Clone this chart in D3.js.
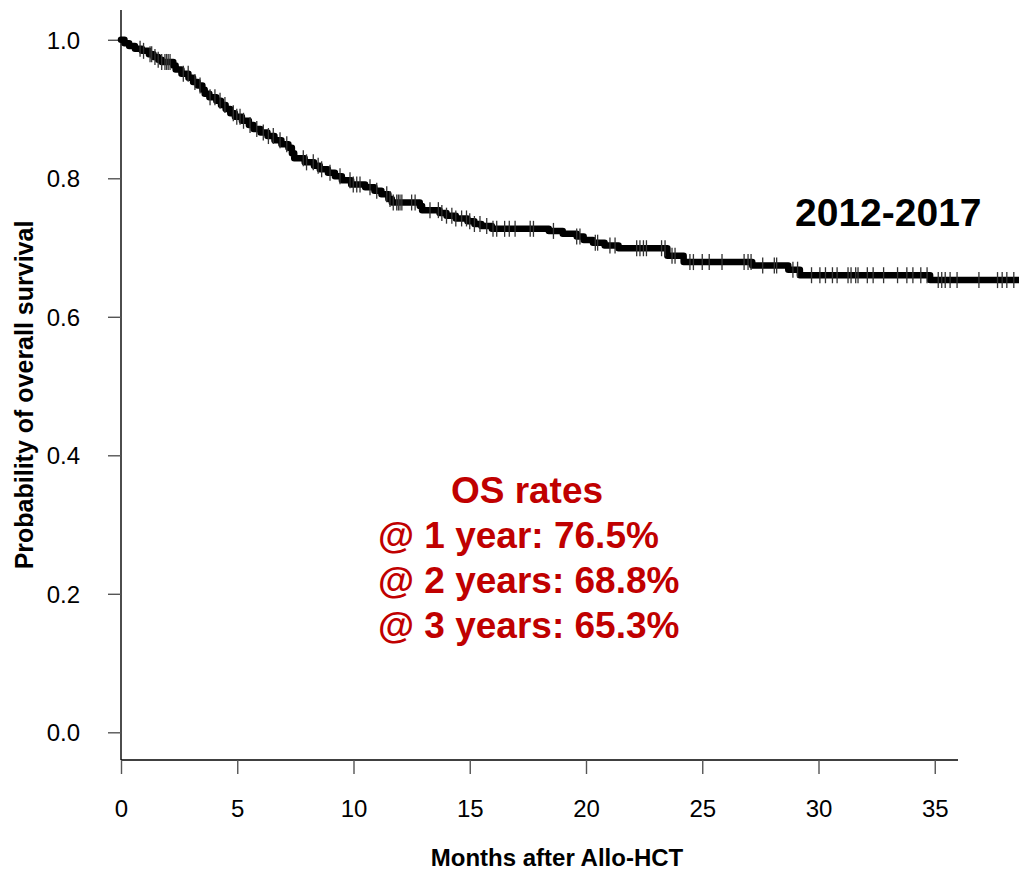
<!DOCTYPE html>
<html>
<head>
<meta charset="utf-8">
<script src="https://cdn.jsdelivr.net/npm/d3@7/dist/d3.min.js"></script>
<style>
  html, body { margin: 0; padding: 0; background: #fff; }
  svg text { font-family: "Liberation Sans", Arial, Helvetica, sans-serif; }
</style>
</head>
<body>
<svg id="chart" width="1019" height="870"></svg>
<script>
// Kaplan-Meier estimate: event times (months) and survival after each event
const eventMonths = [0.15,0.35,0.6,0.9,1.2,1.4,1.6,1.75,2.25,2.35,2.6,2.9,3.1,3.3,3.5,3.6,3.8,
  4.1,4.3,4.5,4.7,4.9,5.2,5.5,5.7,6.0,6.3,6.6,6.9,7.2,7.35,7.45,7.9,8.3,8.55,
  8.9,9.2,9.5,9.9,10.5,10.9,11.2,11.5,11.65,12.85,12.95,13.7,14.0,14.4,14.9,15.2,15.5,15.95,
  18.4,19.0,19.6,19.9,20.3,20.8,21.4,23.5,24.2,27.15,28.7,29.2,34.8];
const survival = [0.995,0.991,0.987,0.984,0.979,0.975,0.971,0.968,0.963,0.957,0.951,0.945,0.939,0.934,0.928,0.922,0.917,
  0.912,0.906,0.900,0.894,0.889,0.883,0.877,0.871,0.866,0.861,0.855,0.849,0.844,0.836,0.829,0.823,0.818,0.813,
  0.808,0.803,0.797,0.791,0.787,0.782,0.777,0.770,0.765,0.760,0.754,0.750,0.746,0.742,0.738,0.734,0.731,0.727,
  0.724,0.720,0.716,0.711,0.707,0.703,0.699,0.688,0.679,0.674,0.668,0.660,0.653];
// censored observations (months)
const censorMonths = [0.82,0.97,1.25,1.32,1.46,1.6,1.75,1.89,1.96,2.03,2.11,2.68,2.89,3.18,3.4,3.83,4.04,4.26,4.47,
  4.83,4.98,5.12,5.27,5.55,5.84,6.12,6.34,6.55,6.84,7.13,7.84,7.98,8.27,8.48,8.63,8.99,9.42,9.85,9.99,10.14,10.28,10.71,11.0,
  11.43,11.57,11.71,11.86,11.93,12.0,12.08,12.5,12.65,13.29,13.65,13.8,14.0,14.23,14.4,14.65,14.86,15.0,15.2,15.44,15.73,
  16.0,16.16,16.5,16.7,16.95,17.6,17.74,18.6,19.6,19.74,20.4,20.5,21.03,21.25,22.18,22.32,22.47,22.6,23.25,23.4,23.7,23.83,
  24.47,24.62,25.0,25.3,25.85,26.8,26.97,27.1,27.6,28.1,28.2,28.9,29.1,29.7,30.06,30.3,30.6,30.8,31.27,31.4,31.6,31.7,
  32.1,32.35,32.8,33.4,33.8,34.06,34.4,34.67,35.15,35.3,35.45,35.66,35.96,36.9,37.7,37.9,38.1,38.4];
const followUpEnd = 38.8;

const xTicks = [0, 5, 10, 15, 20, 25, 30, 35];
const yTicks = [0.0, 0.2, 0.4, 0.6, 0.8, 1.0];
const xTitle = "Months after Allo-HCT";
const yTitle = "Probability of overall survival";
const periodLabel = "2012-2017";
const rateTitle = "OS rates";
const rateLines = ["@ 1 year: 76.5%", "@ 2 years: 68.8%", "@ 3 years: 65.3%"];

const svg = d3.select("#chart");

const x = d3.scaleLinear().domain([0, 36]).range([121, 958]);
const y = d3.scaleLinear().domain([-0.04, 1.043]).range([760, 10]);

// axes
const xAxis = d3.axisBottom(x).tickValues(xTicks).tickSize(14).tickPadding(26).tickFormat(d3.format("d"));
const gx = svg.append("g").attr("transform", "translate(0,760)").call(xAxis);
gx.select(".domain").attr("d", `M${x(0)},0H${x(36)}`).attr("stroke", "#000").attr("stroke-width", 1.4);
gx.selectAll(".tick line").attr("stroke", "#555").attr("stroke-width", 1.4);
gx.selectAll(".tick text").attr("font-size", 24).attr("fill", "#000")
  .style("font-family", "Liberation Sans, Arial, sans-serif");

const yAxis = d3.axisLeft(y).tickValues(yTicks).tickSize(13).tickPadding(28).tickFormat(d3.format(".1f"));
const gy = svg.append("g").attr("transform", `translate(${x(0)},0)`).call(yAxis);
gy.select(".domain").attr("d", `M0,${y(1.043)}V${y(-0.04)}`).attr("stroke", "#000").attr("stroke-width", 1.4);
gy.selectAll(".tick line").attr("stroke", "#555").attr("stroke-width", 1.4);
gy.selectAll(".tick text").attr("font-size", 24).attr("fill", "#000").attr("dy", "0.36em")
  .style("font-family", "Liberation Sans, Arial, sans-serif");

// axis titles
svg.append("text").attr("x", 557).attr("y", 866).attr("text-anchor", "middle")
  .attr("font-size", 24).attr("font-weight", "bold").text(xTitle);
svg.append("text").attr("transform", "translate(33,395) rotate(-90)").attr("text-anchor", "middle")
  .attr("font-size", 25).attr("font-weight", "bold").text(yTitle);

// survival curve (step function)
const pts = [[0, 1.0]];
eventMonths.forEach((t, i) => pts.push([t, survival[i]]));
pts.push([followUpEnd, survival[survival.length - 1]]);

const line = d3.line().x(d => x(d[0])).y(d => y(d[1])).curve(d3.curveStepAfter);
svg.append("path").datum(pts).attr("d", line)
  .attr("fill", "none").attr("stroke", "#000").attr("stroke-width", 6.5)
  .attr("stroke-linejoin", "round").attr("stroke-linecap", "round");

// censor marks
const survAt = t => {
  const i = d3.bisectRight(eventMonths, t);
  return i === 0 ? 1.0 : survival[i - 1];
};
svg.append("g").selectAll("line").data(censorMonths).join("line")
  .attr("x1", d => x(d)).attr("x2", d => x(d))
  .attr("y1", d => y(survAt(d)) - 8).attr("y2", d => y(survAt(d)) + 8)
  .attr("stroke", "#333").attr("stroke-width", 1.3);

// annotations
svg.append("text").attr("x", 795).attr("y", 226).attr("font-size", 39).attr("font-weight", "bold")
  .attr("fill", "#000").text(periodLabel);

svg.append("text").attr("x", 527).attr("y", 503).attr("text-anchor", "middle")
  .attr("font-size", 37).attr("font-weight", "bold").attr("fill", "#C00000").text(rateTitle);
rateLines.forEach((s, i) => {
  svg.append("text").attr("x", 378).attr("y", 548 + i * 45)
    .attr("font-size", 37).attr("font-weight", "bold").attr("fill", "#C00000").text(s);
});
</script>
</body>
</html>
